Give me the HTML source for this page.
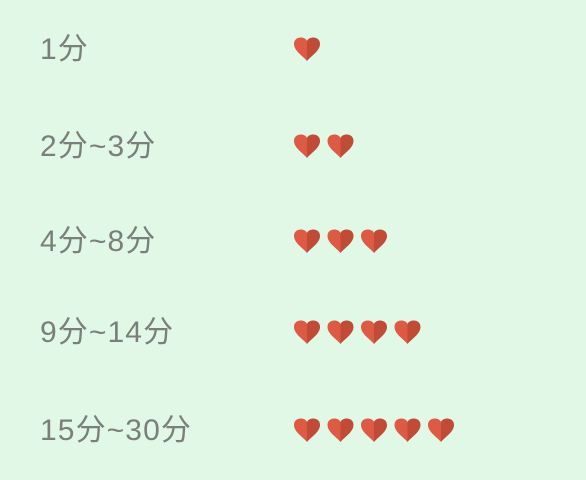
<!DOCTYPE html>
<html><head><meta charset="utf-8"><style>
body{margin:0;width:586px;height:480px;background:#e2f8e6;overflow:hidden;position:relative;font-family:"Liberation Sans","Noto Sans CJK SC",sans-serif}
.lbl{position:absolute;left:40px;font-size:30px;letter-spacing:1.1px;color:#7b7f7b;line-height:32px;white-space:nowrap}
svg{position:absolute;left:0;top:0}
</style></head><body>
<div id="labels"></div>
<svg id="chart" width="586" height="480"></svg>
<script>
const categories=["1分","2分~3分","4分~8分","9分~14分","15分~30分"];
const heartCounts=[1,2,3,4,5];
const rowY=[49,146,241,332,430];
const ns="http://www.w3.org/2000/svg";
const svg=document.getElementById('chart');
const lab=document.getElementById('labels');
const heartX=i=>307+i*33.5;
categories.forEach((c,r)=>{
  const d=document.createElement('div');
  d.className='lbl';d.style.top=(rowY[r]-15)+'px';d.textContent=c;
  
  
  lab.appendChild(d);
  for(let i=0;i<heartCounts[r];i++){
    const g=document.createElementNS(ns,'g');
    
    
    g.setAttribute('transform','translate('+heartX(i)+','+(rowY[r]-12)+')');
    g.innerHTML='<path d="M0 4 C-2 -1 -13 -1 -13 7 C-13 14 -4 19 0 24 Z" fill="#dd5a44"/><path d="M0 4 C2 -1 13 -1 13 7 C13 14 4 19 0 24 Z" fill="#c04b37"/>';
    svg.appendChild(g);
  }
});
</script>
</body></html>
